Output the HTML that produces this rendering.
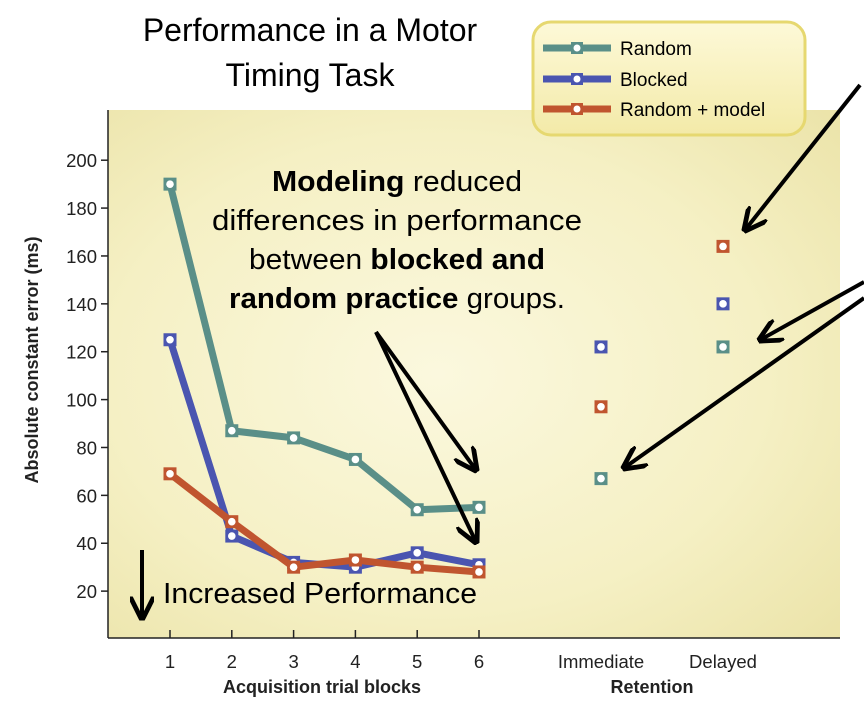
<!DOCTYPE html>
<html><head><meta charset="utf-8"><style>
body{margin:0;width:864px;height:706px;overflow:hidden;background:#fff;font-family:"Liberation Sans",sans-serif}
</style></head><body>
<svg width="864" height="706" viewBox="0 0 864 706" xmlns="http://www.w3.org/2000/svg">
<defs>
<radialGradient id="bg" cx="0.45" cy="0.5" r="0.75">
<stop offset="0" stop-color="#fbf8de"/><stop offset="0.6" stop-color="#f5f0c4"/><stop offset="1" stop-color="#ebe3a8"/>
</radialGradient>
<linearGradient id="lg" x1="0" y1="0" x2="0" y2="1"><stop offset="0" stop-color="#fdf9d8"/><stop offset="1" stop-color="#f3eaa8"/></linearGradient>
<marker id="ah" viewBox="0 0 10 10" refX="9" refY="5" markerWidth="6" markerHeight="6" orient="auto"><path d="M0,0 L10,5 L0,10" fill="none" stroke="#000" stroke-width="2"/></marker>
</defs>
<rect x="108" y="110" width="732" height="528" fill="url(#bg)"/>
<g id="axes"></g>
<g id="series"></g>
<text x="310" y="41" font-size="32" text-anchor="middle">Performance in a Motor</text>
<text x="310" y="86" font-size="32" text-anchor="middle">Timing Task</text>
<g>
<rect x="533" y="22" width="272" height="113" rx="18" fill="url(#lg)" stroke="#e6d870" stroke-width="3"/>
<line x1="543" y1="48" x2="611" y2="48" stroke="#5a8f88" stroke-width="7"/><rect x="571" y="42" width="12" height="12" fill="#5a8f88"/><circle cx="577" cy="48" r="3.5" fill="#fff"/>
<text x="620" y="55" font-size="19">Random</text>
<line x1="543" y1="79" x2="611" y2="79" stroke="#4a55b0" stroke-width="7"/><rect x="571" y="73" width="12" height="12" fill="#4a55b0"/><circle cx="577" cy="79" r="3.5" fill="#fff"/>
<text x="620" y="86" font-size="19">Blocked</text>
<line x1="543" y1="109" x2="611" y2="109" stroke="#c0552f" stroke-width="7"/><rect x="571" y="103" width="12" height="12" fill="#c0552f"/><circle cx="577" cy="109" r="3.5" fill="#fff"/>
<text x="620" y="116" font-size="19">Random + model</text>
</g>
<g font-size="29" text-anchor="middle">
<text x="397" y="191" textLength="250" lengthAdjust="spacingAndGlyphs"><tspan font-weight="bold">Modeling</tspan> reduced</text>
<text x="397" y="230" textLength="370" lengthAdjust="spacingAndGlyphs">differences in performance</text>
<text x="397" y="269" textLength="296" lengthAdjust="spacingAndGlyphs">between <tspan font-weight="bold">blocked and</tspan></text>
<text x="397" y="308" textLength="336" lengthAdjust="spacingAndGlyphs"><tspan font-weight="bold">random practice</tspan> groups.</text>
</g>
<g stroke="#000" stroke-width="4" fill="none">
<line x1="376" y1="332" x2="476" y2="470" marker-end="url(#ah)"/>
<line x1="376" y1="332" x2="476" y2="542" marker-end="url(#ah)"/>
<line x1="860" y1="85" x2="745" y2="230" marker-end="url(#ah)"/>
<line x1="864" y1="282" x2="760" y2="340" marker-end="url(#ah)"/>
<line x1="864" y1="298" x2="624" y2="468" marker-end="url(#ah)"/>
<line x1="142" y1="550" x2="142" y2="618" marker-end="url(#ah)"/>
</g>
<text x="163" y="603" font-size="29" textLength="314" lengthAdjust="spacingAndGlyphs">Increased Performance</text>
</svg>
<script>
const yTicks=[20,40,60,80,100,120,140,160,180,200];
const acqCats=["1","2","3","4","5","6"];
const retCats=["Immediate","Delayed"];
const randomAcq=[190,87,84,75,54,55];
const blockedAcq=[125,43,32,30,36,31];
const modelAcq=[69,49,30,33,30,28];
const randomRet=[67,122];
const blockedRet=[122,140];
const modelRet=[97,164];
const NS="http://www.w3.org/2000/svg";
function y(v){return 639-v*2.394;}
function xa(i){return 170+i*61.8;}
function xr(i){return 601+i*122;}
function mk(t,a,p){const e=document.createElementNS(NS,t);for(const k in a)e.setAttribute(k,a[k]);(p||document.getElementById('series')).appendChild(e);return e;}
const ax=document.getElementById('axes');
let e=mk('line',{x1:108,y1:110,x2:108,y2:638,stroke:'#222','stroke-width':1.5},ax);


e=mk('line',{x1:108,y1:638,x2:840,y2:638,stroke:'#222','stroke-width':1.5},ax);


yTicks.forEach(v=>{mk('line',{x1:101,y1:y(v),x2:108,y2:y(v),stroke:'#222','stroke-width':1.5},ax);
const t=mk('text',{x:97,y:y(v)+7,'font-size':18.5,'text-anchor':'end',fill:'#222'},ax);t.textContent=v;

});
acqCats.forEach((c,i)=>{mk('line',{x1:xa(i),y1:630,x2:xa(i),y2:638,stroke:'#222','stroke-width':1.5},ax);
const t=mk('text',{x:xa(i),y:668,'font-size':18.5,'text-anchor':'middle',fill:'#222'},ax);t.textContent=c;

});
retCats.forEach((c,i)=>{const t=mk('text',{x:xr(i),y:668,'font-size':18.5,'text-anchor':'middle',fill:'#222'},ax);t.textContent=c;

});
let t=mk('text',{x:322,y:693,'font-size':18,'font-weight':'bold','text-anchor':'middle',fill:'#222'},ax);t.textContent='Acquisition trial blocks';


t=mk('text',{x:652,y:693,'font-size':18,'font-weight':'bold','text-anchor':'middle',fill:'#222'},ax);t.textContent='Retention';


t=mk('text',{x:0,y:0,'font-size':18,'font-weight':'bold','text-anchor':'middle',fill:'#222',transform:'translate(38,360) rotate(-90)'},ax);t.textContent='Absolute constant error (ms)';


function series(acq,ret,col,name){
const l=mk('polyline',{points:acq.map((v,i)=>xa(i)+','+y(v)).join(' '),fill:'none',stroke:col,'stroke-width':7,'stroke-linejoin':'round'});


const pts=acq.map((v,i)=>[xa(i),y(v)]).concat(ret.map((v,i)=>[xr(i),y(v)]));
pts.forEach(p=>{const r=mk('rect',{x:p[0]-6.5,y:p[1]-6.5,width:13,height:13,fill:col});


mk('circle',{cx:p[0],cy:p[1],r:3.8,fill:'#fff'});});
}
series(randomAcq,randomRet,'#5a8f88','random');
series(blockedAcq,blockedRet,'#4a55b0','blocked');
series(modelAcq,modelRet,'#c0552f','random-model');
</script>
</body></html>
